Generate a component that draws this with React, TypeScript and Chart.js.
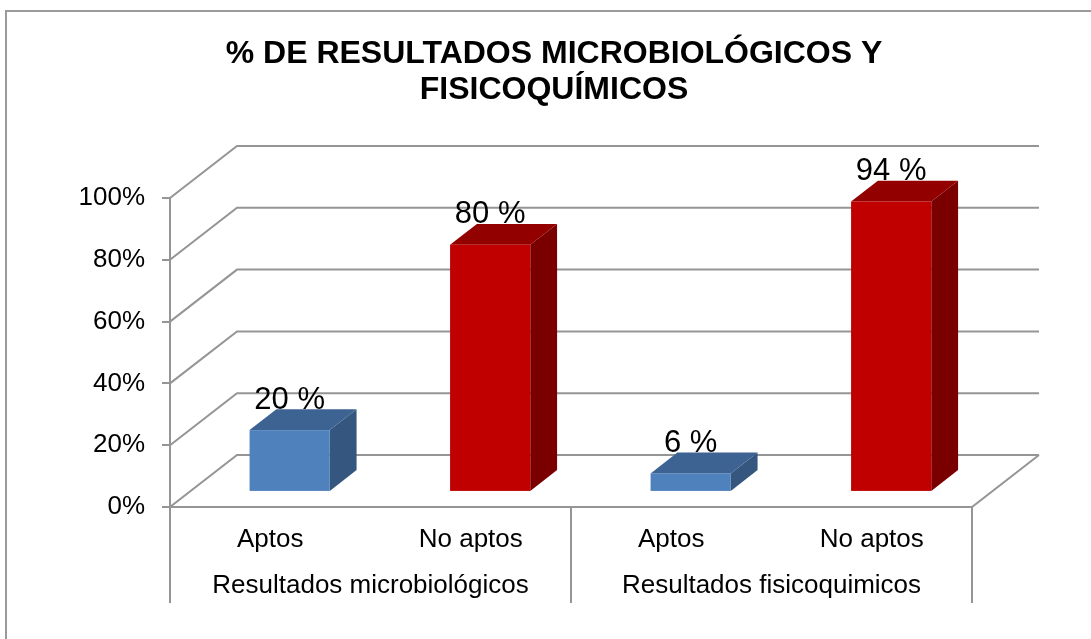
import React, { useEffect, useRef } from 'react';
import { Chart, registerables } from 'chart.js';

Chart.register(...registerables);

// ---- data ----
const CATEGORIES = ['Aptos', 'No aptos', 'Aptos', 'No aptos'];
const GROUPS = ['Resultados microbiológicos', 'Resultados fisicoquimicos'];
const GROUP_SIZE = [2, 2];
const VALUES = [20, 80, 6, 94];
const Y_MIN = 0;
const Y_MAX = 100;
const Y_STEP = 20;
const TITLE_LINES = ['% DE RESULTADOS MICROBIOLÓGICOS Y', 'FISICOQUÍMICOS'];

// ---- styles ----
const FONT = "'Liberation Sans', Arial, Helvetica, sans-serif";
const FRONT_COLORS = ['#4F81BD', '#C00000', '#4F81BD', '#C00000'];
const TOP_COLORS = ['#3D6392', '#930000', '#3D6392', '#930000'];
const SIDE_COLORS = ['#34567F', '#7A0000', '#34567F', '#7A0000'];
const GRID_COLOR = '#959595';
const DEPTH_X = 67;
const DEPTH_Y = -52;
const BAR_FRONT = 0.29;
const BAR_BACK = 0.69;
const LEFT_AXIS_WIDTH = 153;
const RIGHT_GAP = 119;

const depthPlugin = {
  id: 'depth3d',
  beforeDraw(chart: any) {
    const { ctx, width, height } = chart;
    ctx.save();
    ctx.fillStyle = '#ffffff';
    ctx.fillRect(0, 0, width, height);
    ctx.strokeStyle = '#9a9a9a';
    ctx.lineWidth = 2;
    ctx.beginPath();
    ctx.moveTo(6, height + 4);
    ctx.lineTo(6, 11);
    ctx.lineTo(width + 4, 11);
    ctx.stroke();
    ctx.restore();
  },
  beforeDatasetsDraw(chart: any) {
    const { ctx, chartArea } = chart;
    const ys = chart.scales.y;
    const xs = chart.scales.x;
    const x2 = chart.scales.x2;
    const L = chartArea.left;
    const R = chartArea.right;
    ctx.save();
    ctx.strokeStyle = GRID_COLOR;
    ctx.lineWidth = 2;
    ctx.lineJoin = 'miter';
    // back wall + side wall grid lines
    ys.ticks.forEach((t: any) => {
      const py = ys.getPixelForValue(t.value);
      ctx.beginPath();
      ctx.moveTo(L, py);
      ctx.lineTo(L + DEPTH_X, py + DEPTH_Y);
      ctx.lineTo(R + DEPTH_X, py + DEPTH_Y);
      ctx.stroke();
    });
    // floor
    const y0 = ys.getPixelForValue(Y_MIN);
    ctx.beginPath();
    ctx.moveTo(L, y0);
    ctx.lineTo(R, y0);
    ctx.lineTo(R + DEPTH_X, y0 + DEPTH_Y);
    ctx.stroke();
    // front value axis, extended through category labels
    const bottom = x2.bottom + 4;
    ctx.beginPath();
    ctx.moveTo(L, ys.getPixelForValue(Y_MAX));
    ctx.lineTo(L, bottom);
    ctx.stroke();
    // group separators
    let idx = 0;
    GROUP_SIZE.forEach((n) => {
      idx += n;
      const px = xs.getPixelForValue(idx - 0.5);
      ctx.beginPath();
      ctx.moveTo(px, y0);
      ctx.lineTo(px, bottom);
      ctx.stroke();
    });
    ctx.restore();
  },
  beforeDatasetDraw() {
    return false;
  },
  afterDatasetsDraw(chart: any) {
    const { ctx } = chart;
    const meta = chart.getDatasetMeta(0);
    const fx = DEPTH_X * BAR_FRONT;
    const fy = DEPTH_Y * BAR_FRONT;
    const bx = DEPTH_X * BAR_BACK;
    const by = DEPTH_Y * BAR_BACK;
    ctx.save();
    meta.data.forEach((el: any, i: number) => {
      const { x, y, base, width } = el.getProps(['x', 'y', 'base', 'width'], true);
      const l = x - width / 2;
      const r = x + width / 2;
      // side face
      ctx.fillStyle = SIDE_COLORS[i];
      ctx.beginPath();
      ctx.moveTo(r + fx, y + fy);
      ctx.lineTo(r + bx, y + by);
      ctx.lineTo(r + bx, base + by);
      ctx.lineTo(r + fx, base + fy);
      ctx.closePath();
      ctx.fill();
      // top face
      ctx.fillStyle = TOP_COLORS[i];
      ctx.beginPath();
      ctx.moveTo(l + fx, y + fy);
      ctx.lineTo(r + fx, y + fy);
      ctx.lineTo(r + bx, y + by);
      ctx.lineTo(l + bx, y + by);
      ctx.closePath();
      ctx.fill();
      // front face
      ctx.fillStyle = FRONT_COLORS[i];
      ctx.fillRect(l + fx, y + fy, width, base - y);
      // value label
      ctx.fillStyle = '#000000';
      ctx.font = `31px ${FONT}`;
      ctx.textAlign = 'center';
      ctx.textBaseline = 'middle';
      ctx.fillText(`${VALUES[i]} %`, x + fx, y + fy - 30);
    });
    ctx.restore();
  },
};

export default function App() {
  const canvasRef = useRef<HTMLCanvasElement | null>(null);

  useEffect(() => {
    document.body.style.margin = '0';
    const canvas = canvasRef.current;
    if (!canvas) return;
    const chart = new Chart(canvas, {
      type: 'bar',
      data: {
        labels: CATEGORIES,
        datasets: [
          {
            data: VALUES,
            backgroundColor: FRONT_COLORS,
            barPercentage: 0.4,
            categoryPercentage: 1.0,
          },
        ],
      },
      plugins: [depthPlugin],
      options: {
        responsive: false,
        animation: false,
        devicePixelRatio: 1,
        layout: { padding: { left: 17, right: 0, top: 0, bottom: 40 } },
        plugins: {
          legend: { display: false },
          tooltip: { enabled: false },
          title: {
            display: true,
            text: TITLE_LINES,
            color: '#000000',
            font: { family: FONT, size: 32, weight: 'bold', lineHeight: 36 / 32 },
            padding: { top: 36, bottom: 90 },
          },
        },
        scales: {
          x: {
            type: 'category',
            position: 'bottom',
            weight: 0,
            offset: true,
            grid: { display: false, drawTicks: false },
            border: { display: false },
            ticks: {
              color: '#000000',
              font: { family: FONT, size: 26, lineHeight: 1.0 },
              padding: 20,
              maxRotation: 0,
              autoSkip: false,
            },
          },
          x2: {
            type: 'category',
            position: 'bottom',
            weight: 1,
            labels: GROUPS,
            offset: true,
            grid: { display: false, drawTicks: false },
            border: { display: false },
            ticks: {
              color: '#000000',
              font: { family: FONT, size: 26, lineHeight: 1.0 },
              padding: 0,
              maxRotation: 0,
              autoSkip: false,
            },
          },
          y: {
            min: Y_MIN,
            max: Y_MAX,
            border: { display: false },
            grid: {
              drawOnChartArea: false,
              drawTicks: true,
              tickLength: 8,
              color: GRID_COLOR,
              lineWidth: 2,
            },
            ticks: {
              stepSize: Y_STEP,
              color: '#000000',
              font: { family: FONT, size: 26 },
              padding: 17,
              callback: (v: any) => `${v}%`,
            },
            afterFit: (s: any) => {
              s.width = LEFT_AXIS_WIDTH;
            },
          },
          yRight: {
            type: 'linear',
            position: 'right',
            grid: { display: false, drawTicks: false },
            border: { display: false },
            ticks: { display: false },
            afterFit: (s: any) => {
              s.width = RIGHT_GAP;
            },
          },
        },
      },
    });
    return () => chart.destroy();
  }, []);

  return (
    <div style={{ position: 'fixed', left: 0, top: 0, width: 1091, height: 639, background: '#fff' }}>
      <canvas ref={canvasRef} width={1091} height={639} style={{ display: 'block' }} />
    </div>
  );
}
